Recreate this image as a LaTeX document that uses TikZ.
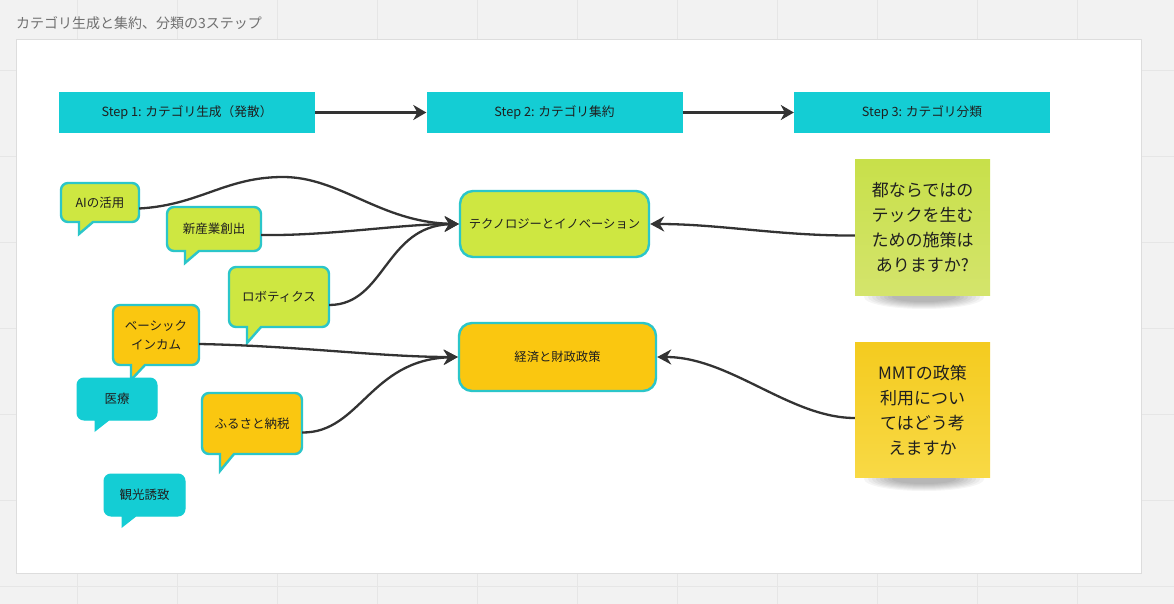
\documentclass[tikz,border=0pt]{standalone}
\usepackage{fontspec}
\setmainfont{Noto Sans CJK JP}
\usetikzlibrary{arrows.meta,calc}
\definecolor{bgc}{HTML}{F2F2F2}
\definecolor{gridc}{HTML}{E6E6E6}
\definecolor{panelborder}{HTML}{DDDDDD}
\definecolor{cyanfill}{HTML}{14CDD4}
\definecolor{greenfill}{HTML}{CEE741}
\definecolor{orangefill}{HTML}{FAC710}
\definecolor{tealborder}{HTML}{2BC6C9}
\definecolor{linec}{HTML}{333333}
\definecolor{textc}{HTML}{1F1F1F}
\definecolor{titlec}{HTML}{707070}
\definecolor{stickygtop}{HTML}{C8E04A}
\definecolor{stickygbot}{HTML}{D4E46C}
\definecolor{stickyytop}{HTML}{F4CB1F}
\definecolor{stickyybot}{HTML}{F8D945}
\tikzset{
  gridline/.style={draw=gridc, line width=0.8pt},
  stepbox/.style={fill=cyanfill, draw=none, minimum width=256pt, minimum height=41pt, inner sep=0pt,
    text=textc, font=\fontsize{12.7}{15}\selectfont},
  steparrow/.style={draw=linec, line width=3pt, -{Stealth[length=13pt,width=15pt,inset=4pt]}},
  conn/.style={draw=linec, line width=2.3pt, -{Stealth[length=14pt,width=15pt,inset=4.5pt]}},
  bubgreen/.style={fill=greenfill, draw=tealborder, line width=2.4pt},
  buborange/.style={fill=orangefill, draw=tealborder, line width=2.4pt},
  bubcyan/.style={fill=cyanfill, draw=cyanfill, line width=1pt},
  bubtext/.style={draw=none, inner sep=0pt, align=center, text=textc,
    font=\fontsize{12.5}{18.5}\selectfont},
  catbox/.style={draw=tealborder, line width=2.4pt, rounded corners=13pt, inner sep=0pt,
    text=textc, font=\fontsize{12.3}{15}\selectfont},
  sticky/.style={draw=none, inner sep=0pt, align=center, text=textc,
    font=\fontsize{17}{25}\selectfont, minimum width=135pt, minimum height=135pt},
}
% bubble: name, x1, y1, x2, y2, style, tail depth, text
\newcommand\bubble[8]{%
  \path[#6, rounded corners=7pt] (#2,#3) -- (#4,#3) -- (#4,#5) [sharp corners] -- ({#2+32},#5)
     -- ({#2+18},{#5+#7}) -- ({#2+18},#5) [rounded corners=7pt] -- (#2,#5) -- cycle;
  \node[bubtext, minimum width={(#4-#2)*1pt}, minimum height={(#5-#3)*1pt}] (#1)
     at ({(#2+#4)/2},{(#3+#5)/2}) {#8};
}
\newcommand\stickyshadow[2]{%
  \foreach \r in {0,...,7}{
    \fill[black, opacity=0.04] (#1,#2) ellipse [x radius={(60-\r*4)*1pt}, y radius={(12-\r*1)*1pt}];
  }
}
\begin{document}
\begin{tikzpicture}[x=1pt, y=-1pt]
\useasboundingbox (0,0) rectangle (1174,604);
\fill[bgc] (0,0) rectangle (1174,604);
\foreach \x in {77,177,...,1177} \draw[gridline] (\x,0) -- (\x,604);
\foreach \y in {70,156,242,328,414,500,586} \draw[gridline] (0,\y) -- (1174,\y);

\node[anchor=west, text=titlec, inner sep=0pt, font=\fontsize{14}{16}\selectfont] (title) at (16,23) {カテゴリ生成と集約、分類の3ステップ};
\node[draw=panelborder, line width=1pt, fill=white, minimum width=1125pt, minimum height=534pt,
      anchor=north west, inner sep=0pt] (panel) at (16,39) {};

% steps
\node[stepbox] (s1) at (187,112.5) {Step 1: カテゴリ生成（発散）};
\node[stepbox] (s2) at (554.5,112.5) {Step 2: カテゴリ集約};
\node[stepbox] (s3) at (922,112.5) {Step 3: カテゴリ分類};
\draw[steparrow] (s1) -- (s2);
\draw[steparrow] (s2) -- (s3);

% category boxes
\node[catbox, fill=greenfill, minimum width=189pt, minimum height=66pt] (tech) at (554.5,224) {テクノロジーとイノベーション};
\node[catbox, fill=orangefill, minimum width=197pt, minimum height=68pt] (econ) at (557.5,357) {経済と財政政策};

% bubbles
\bubble{ai}{61}{183}{139}{222}{bubgreen}{12}{AIの活用}
\bubble{shin}{167}{207}{261}{251}{bubgreen}{12}{新産業創出}
\bubble{robo}{229}{267}{329}{327}{bubgreen}{16}{ロボティクス}
\bubble{bi}{113}{305}{199}{365}{buborange}{15}{ベーシック\\インカム}
\bubble{iryo}{77}{378}{157}{420}{bubcyan}{11}{医療}
\bubble{furu}{202}{393}{302}{454}{buborange}{17}{ふるさと納税}
\bubble{kanko}{104}{474}{185}{516}{bubcyan}{11}{観光誘致}

% sticky notes
\stickyshadow{924}{297}
\stickyshadow{924}{479}
\node[sticky, top color=stickygtop, bottom color=stickygbot] (qa) at (922.5,227.5) {都ならではの\\テックを生む\\ための施策は\\ありますか?};
\node[sticky, top color=stickyytop, bottom color=stickyybot] (qb) at (922.5,410) {MMTの政策\\利用につい\\てはどう考\\えますか};

% connectors
\draw[conn] ([yshift=-6pt]ai.east) .. controls (200,205) and (225,177) .. (283,177)
   .. controls (340,177) and (380,222) .. (tech.west);
\draw[conn] ([yshift=-6pt]shin.east) .. controls (330,236) and (400,224) .. (tech.west);
\draw[conn] ([yshift=-8pt]robo.east) .. controls (385,305) and (385,226) .. (tech.west);
\draw[conn] ([yshift=-9pt]bi.east) .. controls (300,346) and (380,357) .. (econ.west);
\draw[conn] ([yshift=-9pt]furu.east) .. controls (360,433) and (370,360) .. (econ.west);
\draw[conn] ([yshift=-8pt]qa.west) .. controls (780,236) and (720,224) .. (tech.east);
\draw[conn] ([yshift=-8pt]qb.west) .. controls (790,418) and (730,357) .. (econ.east);
\end{tikzpicture}
\end{document}
